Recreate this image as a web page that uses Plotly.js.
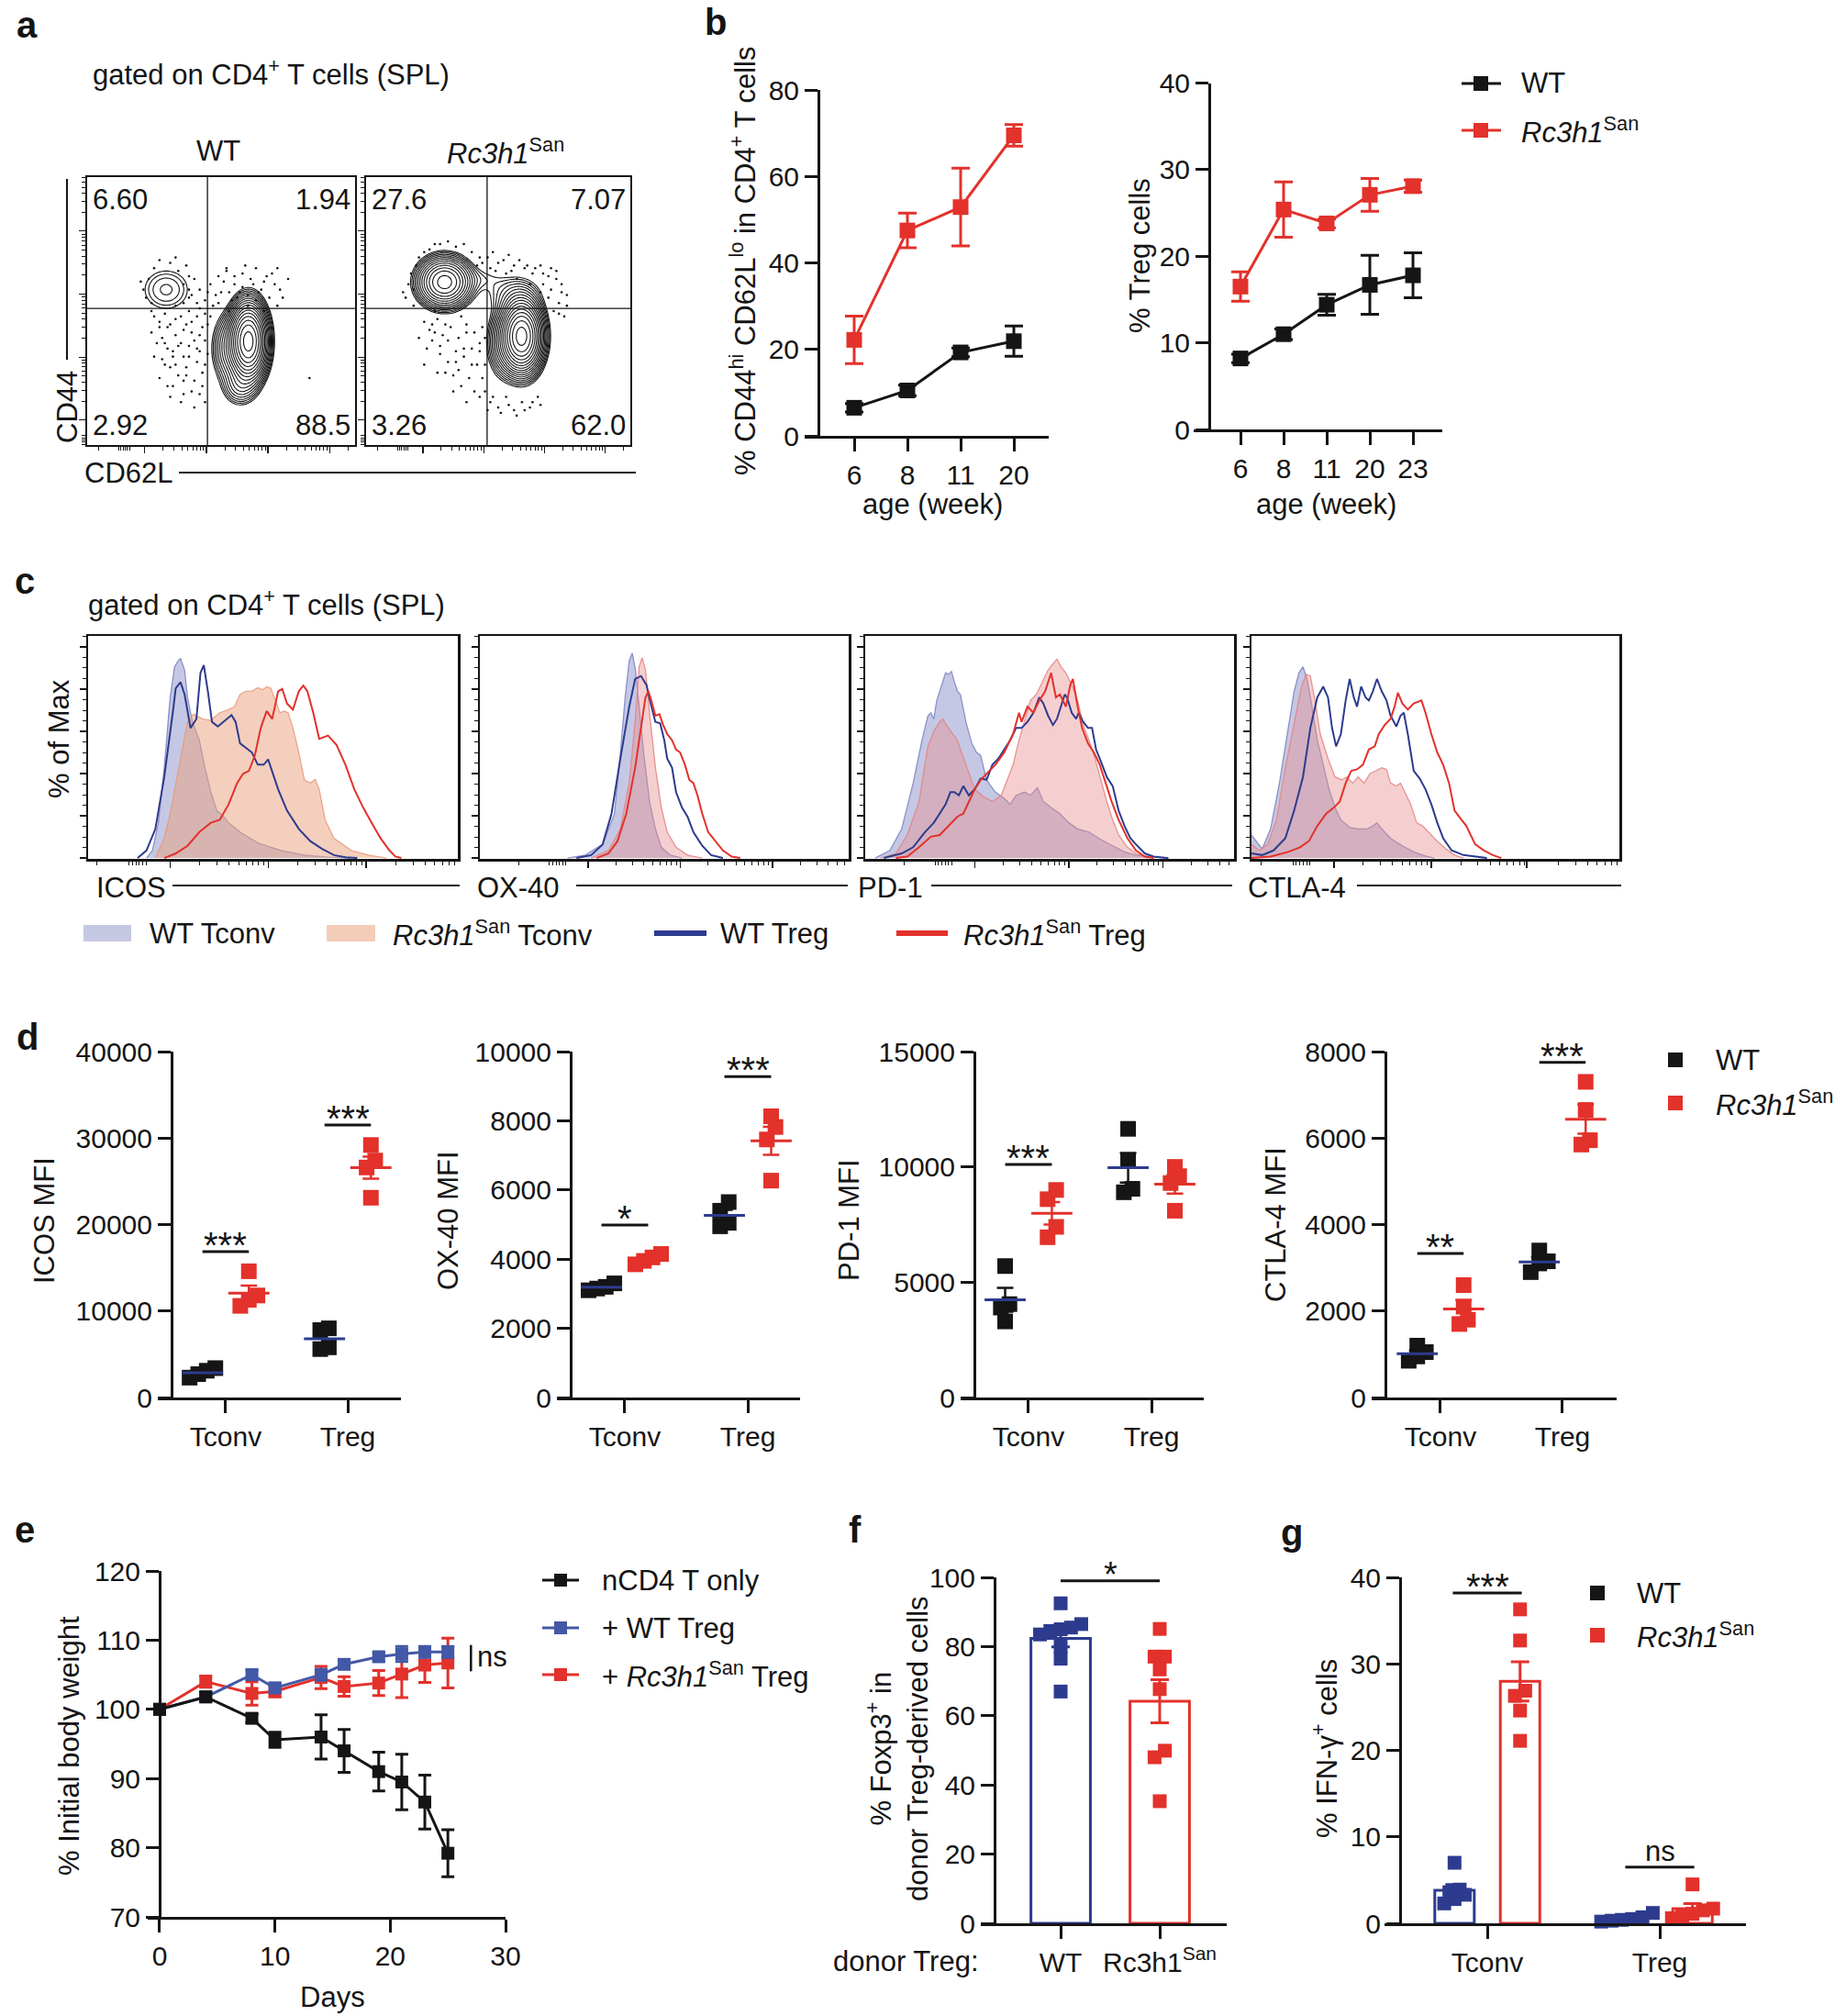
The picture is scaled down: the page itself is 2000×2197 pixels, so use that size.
<!DOCTYPE html>
<html>
<head>
<meta charset="utf-8">
<title>Rc3h1 San Treg phenotype</title>
<script src="https://cdn.plot.ly/plotly-3.0.1.min.js"></script>
<style>
html, body { margin: 0; padding: 0; background: #ffffff; }
#fig { width: 2000px; height: 2197px; }
</style>
</head>
<body>
<div id="fig"></div>
<script>
// ================= DATA =================
// ---- a: CD44 / CD62L flow plots (plot units 0-100) ----
const quadTextWT  = ['6.60', '1.94', '2.92', '88.5'];   // UL, UR, LL, LR
const quadTextSan = ['27.6', '7.07', '3.26', '62.0'];
const gateWT  = [44.9, 51.0];   // CD62L gate, CD44 gate
const gateSan = [45.8, 51.0];
// cell populations: centre, spread and relative height
const popWT_x   = [60.2, 53.0, 57.0, 29.5];
const popWT_y   = [38.7, 36.0, 22.0, 58.0];
const popWT_sx  = [3.3, 3.5, 3.5, 6.0];
const popWT_sy  = [6.8, 7.0, 4.0, 5.3];
const popWT_h   = [1.0, 0.07, 0.05, 0.03];
const popSan_x  = [58.9, 52.0, 29.7, 56.0, 44.0];
const popSan_y  = [40.6, 38.0, 60.8, 56.0, 62.0];
const popSan_sx = [3.7, 3.5, 5.0, 6.0, 5.0];
const popSan_sy = [6.4, 7.0, 4.6, 4.5, 3.0];
const popSan_h  = [1.0, 0.06, 0.35, 0.03, 0.012];
// single events outside the contour lines
const dotsWT_x = [49,52,55,58,61,63,66,69,72,75,50,54,57,64,68,71,47,53,60,66,27,30,33,36,39,42,29,32,35,38,41,44,31,34,37,40,43,30,36,42,28,45,33,24,23,25,34,36,31,22,38,40,83,
  25,27,29,31,33,35,37,39,41,43,44,42,40,38,36,34,32,30,28,26,24,29,33,37,41,43,39,35,31,27,25,44,40,36,32,44,42,38,46,45,
  36,39,42,44,46,48,51,53,55,58,60,62,65,67,70,73,71,45,49,56,63,52,59,41,38,21,20,38,37,27,33,24];
const dotsWT_y = [63,66,60,64,62,66,61,64,58,62,57,54,57,57,55,52,52,50,52,50,46,44,47,43,46,41,38,35,38,33,36,30,29,26,29,24,27,22,19,19,32,45,52,50,62,66,65,60,68,55,55,62,25,
  48,44,49,45,41,48,45,42,48,44,39,35,39,37,33,37,33,36,40,38,42,30,30,26,31,22,20,16,18,25,33,16,14,24,22,49,51,50,48,34,
  53,56,58,54,60,56,61,57,63,59,56,60,58,63,60,55,66,57,53,55,54,65,67,53,58,58,61,63,67,69,70,53];
const dotsSan_x = [47,50,53,56,60,63,66,69,72,74,70,67,76,73,71,75,57,62,20,23,26,28,31,34,37,22,27,33,38,40,43,30,25,36,41,44,47,50,53,56,59,62,45,65,18,17,20,24,28,34,40,42,15,
  22,24,27,29,32,35,38,41,43,40,37,34,31,28,25,30,35,39,42,44,33,38,43,45,45,26,36,
  46,49,52,55,58,61,64,67,70,72,74,76,73,69,66,44,48,54,
  48,51,54,57,60,63,46,66,16,19,22,26,31,37,43,14,18];
const dotsSan_y = [66,68,64,67,66,64,67,63,65,60,58,60,56,53,50,48,62,60,40,36,42,34,39,31,36,30,27,26,42,30,35,45,45,22,20,25,16,14,18,13,16,14,20,18,58,64,70,73,75,74,72,67,55,
  46,43,47,41,44,40,45,42,38,36,33,35,31,37,39,27,28,25,30,44,20,16,18,40,30,50,48,
  70,65,69,65,69,67,66,64,66,62,57,52,49,55,57,68,72,71,
  18,12,15,11,13,16,13,15,60,67,72,75,76,75,70,57,52];

// ---- b: time course ----
const ageL = ['6', '8', '11', '20'];
const memWT      = [6.5, 10.5, 19.3, 21.9];
const memWTErr   = [1.0, 1.2, 1.0, 3.5];
const memSan     = [22.2, 47.5, 52.9, 69.5];
const memSanErr  = [5.5, 4.0, 9.0, 2.5];
const ageR = ['6', '8', '11', '20', '23'];
const tregWT     = [8.2, 11.0, 14.4, 16.7, 17.8];
const tregWTErr  = [0.5, 0.6, 1.2, 3.4, 2.6];
const tregSan    = [16.5, 25.4, 23.8, 27.1, 28.1];
const tregSanErr = [1.7, 3.2, 0.5, 1.9, 0.7];

// ---- c: histograms (x: channel position 0-100, y: % of max) ----
const icosWTTconv_x = [15.8,17.4,19.0,20.6,22.2,23.4,24.4,25.0,26.1,26.9,28.2,30.1,31.6,33.2,34.8,36.4,38.0,41.1,45.9,52.2,58.5,64.9,71.2];
const icosWTTconv_y = [0,3.6,16.7,42.8,76.1,90.6,93.5,94.5,89.1,76.1,64.5,55.8,42.8,31.2,22.5,20.3,16.7,12.3,7.2,3.6,1.4,0.4,0];
const icosSanTconv_x = [18.2,20.6,22.2,24.5,26.9,28.5,30.9,33.2,35.6,38.0,39.6,41.1,42.7,44.3,45.9,47.2,48.3,49.4,50.6,51.9,53.0,54.1,55.4,57.0,58.5,60.1,61.4,62.5,64.1,66.5,71.2,75.9,80.7];
const icosSanTconv_y = [0,9.4,21.0,42.8,64.5,68.1,65.9,65.2,68.8,70.3,71.7,77.5,79.0,79.0,80.7,79.7,81.2,80.4,74.6,68.8,69.6,68.8,61.6,50.0,37.0,35.5,37.2,32.6,18.1,9.4,3.6,1.4,0];
const icosWTTreg_x = [13.4,15.8,18.2,20.6,22.9,23.7,25.0,26.1,27.7,29.3,30.4,31.3,32.4,33.5,35.1,37.2,38.8,39.9,41.1,42.7,44.3,45.9,47.5,48.7,49.8,51.4,53.8,57.0,60.1,63.3,66.5,69.6,72.8];
const icosWTTreg_y = [0,3.6,13.8,38.4,68.8,80.4,83.3,77.5,61.6,65.9,87.7,91.3,79.0,64.5,62.3,65.2,67.7,64.5,54.3,52.2,50.0,44.2,44.2,46.7,41.3,32.6,22.5,13.8,8.0,4.3,1.4,0.4,0];
const icosSanTreg_x = [20.6,23.7,26.9,30.1,33.2,35.6,38.0,40.3,41.9,43.5,45.1,46.7,48.3,49.8,51.4,52.5,53.8,55.4,57.0,58.2,59.3,60.9,62.5,64.9,67.2,69.6,72.0,74.4,76.7,79.1,81.5,83.1,84.7];
const icosSanTreg_y = [0,2.2,5.8,12.3,16.7,18.1,25.4,35.5,39.9,41.3,48.6,61.6,69.6,65.9,79.0,80.1,73.2,70.3,79.0,81.7,79.0,68.8,56.5,58.0,53.6,44.2,32.6,23.9,16.7,9.4,3.6,0.7,0];

const ox40WTTconv_x = [23.8,28.6,33.3,36.5,38.1,39.4,40.5,41.3,42.2,43.2,44.4,46.0,47.6,49.2,51.6,54.8];
const ox40WTTconv_y = [0,1.4,6.5,21.0,50.0,76.1,93.5,97.1,89.1,71.7,50.0,26.8,13.8,5.1,1.4,0];
const ox40SanTconv_x = [30.2,34.9,38.1,40.5,42.1,43.2,44.0,44.9,46.0,47.6,49.2,50.8,53.2,56.3,60.3];
const ox40SanTconv_y = [0,3.6,13.8,35.5,64.5,90.6,94.9,89.1,68.8,42.8,23.9,12.3,5.1,1.4,0];
const ox40WTTreg_x = [26.2,30.2,33.3,35.7,38.1,40.5,42.1,43.7,45.2,46.3,47.6,48.9,50.0,50.8,52.1,53.2,54.8,56.3,57.9,60.3,62.7,65.9];
const ox40WTTreg_y = [0,1.4,6.5,21.0,47.1,71.7,84.8,86.2,81.9,73.2,64.5,63.8,55.8,47.1,42.8,31.2,23.9,19.6,12.3,5.8,1.4,0];
const ox40SanTreg_x = [31.7,34.9,37.3,39.7,42.1,43.7,44.9,45.7,46.5,47.6,48.7,49.7,50.8,52.1,53.2,54.3,55.6,56.8,57.9,59.0,60.3,61.9,63.8,65.9,68.3,70.6];
const ox40SanTreg_y = [0,2.2,8.0,21.0,42.8,61.6,76.1,79.0,74.6,67.4,68.1,63.0,58.7,55.8,51.4,50.0,44.2,37.0,35.5,29.7,21.0,12.3,8.0,3.6,0.7,0];

const pd1WTTconv_x = [2.7,6.7,9.9,13.0,15.4,17.0,17.8,18.6,19.4,21.0,21.8,22.6,23.4,24.2,25.0,25.8,27.3,28.9,30.2,31.3,32.9,35.3,37.7,39.3,40.9,43.2,44.8,46.7,48.3,50.4,52.8,55.2,57.6,60.7,63.9,67.1,70.3,73.4,78.2,81.4];
const pd1WTTconv_y = [0,3.6,13.8,35.5,55.8,67.4,68.8,65.9,74.6,83.3,87.7,87.0,88.4,83.3,79.0,77.5,64.5,54.3,50.0,48.6,37.0,31.2,28.3,25.4,29.7,31.2,29.7,33.3,26.8,23.9,21.0,16.7,13.8,12.3,8.7,5.8,2.9,1.4,0.4,0];
const pd1SanTconv_x = [4.3,8.3,11.4,14.6,17.0,18.6,20.2,21.0,22.6,25.0,27.3,29.7,32.1,34.5,36.9,38.5,40.1,41.7,43.2,44.8,46.4,48.0,49.6,50.9,52.0,53.1,54.4,56.0,57.6,59.1,60.7,62.3,63.9,65.5,67.1,68.7,71.1,73.4,76.6];
const pd1SanTconv_y = [0,2.2,10.9,26.8,52.9,60.1,64.5,65.9,61.6,55.8,44.2,32.6,29.0,26.8,29.7,37.0,44.2,55.8,64.5,74.6,77.5,83.3,89.1,92.0,94.2,90.6,87.7,81.9,74.6,63.0,55.8,47.1,37.0,26.8,18.1,10.9,5.1,2.2,0];
const pd1WTTreg_x = [5.1,9.9,13.0,16.2,18.6,20.2,21.8,23.1,24.2,25.4,26.6,28.1,29.7,31.3,32.9,34.5,36.1,37.7,39.3,40.9,42.4,44.0,45.6,47.2,48.3,49.6,50.9,52.0,53.1,54.1,54.7,56.0,57.2,57.9,59.1,60.4,61.5,62.6,63.9,65.5,67.1,68.7,70.3,71.9,73.4,75.8,78.2,82.2];
const pd1WTTreg_y = [0,2.2,5.1,12.3,16.7,21.0,25.4,31.2,31.2,29.7,34.1,29.7,32.6,37.7,37.0,44.2,47.1,51.4,55.8,61.6,61.6,64.5,68.8,76.1,73.2,67.4,63.0,65.9,71.7,77.5,76.1,68.8,65.9,68.8,64.5,61.6,61.6,51.4,45.7,38.4,34.1,22.5,15.2,9.4,6.5,2.2,0.7,0];
const pd1SanTreg_x = [8.3,11.4,14.6,17.8,20.2,22.6,25.0,26.6,28.1,29.7,31.3,32.9,35.3,37.7,40.1,41.7,42.4,44.0,45.6,47.2,48.8,50.4,51.7,52.8,54.4,55.6,56.3,57.6,58.8,60.4,62.0,63.6,65.2,66.8,68.7,71.1,73.4,75.8,78.2];
const pd1SanTreg_y = [0,0.7,5.1,10.1,10.9,15.2,19.6,21.0,26.8,32.6,37.0,39.9,44.2,50.0,58.7,68.8,64.5,71.7,68.8,74.6,79.0,87.7,76.1,77.5,71.7,81.9,84.8,71.7,61.6,54.3,50.0,44.2,35.5,26.8,18.1,9.4,3.6,0.7,0];

const ctla4WTTconv_x = [0,2.9,5.2,7.6,10.0,11.6,12.9,14.0,15.1,16.3,17.9,19.5,21.1,22.7,24.3,26.7,29.0,31.4,33.0,34.1,35.4,37.8,41.0,44.1,47.3,49.7];
const ctla4WTTconv_y = [10.9,4.3,13.8,35.5,61.6,79.0,87.7,90.6,84.8,73.2,55.8,44.2,32.6,23.9,18.1,14.5,13.8,13.8,15.2,16.7,13.8,9.4,5.8,2.9,1.0,0];
const ctla4SanTconv_x = [0,2.1,4.4,6.8,9.2,11.6,13.5,14.8,16.0,17.1,18.7,20.8,22.7,24.6,25.9,27.5,29.0,30.6,32.2,33.8,35.4,36.7,37.8,39.4,40.5,41.7,43.3,44.9,46.5,48.1,50.5,52.9,55.2,57.6];
const ctla4SanTconv_y = [6.5,3.6,6.5,18.1,42.8,64.5,80.4,87.0,86.2,76.1,58.7,47.1,38.4,37.0,38.4,35.5,38.4,35.5,39.9,41.3,42.8,42.0,35.5,34.1,35.5,31.2,25.4,16.7,15.2,12.3,8.0,4.3,1.4,0];
const ctla4WTTreg_x = [0,2.9,6.0,9.2,11.6,14.0,16.0,17.9,19.5,20.8,21.9,23.0,24.3,25.6,26.7,27.8,28.7,29.8,31.0,31.9,33.0,34.1,35.4,36.7,37.8,39.4,40.5,41.4,42.5,44.1,45.7,47.3,48.9,50.5,52.1,54.4,57.6,60.8,64.0];
const ctla4WTTreg_y = [2.2,1.4,3.6,9.4,22.5,38.4,61.6,76.1,81.2,76.1,61.6,52.9,58.7,74.6,84.8,76.1,71.7,81.2,76.1,74.6,79.0,84.8,79.0,74.6,67.4,62.3,67.4,68.8,58.7,41.3,37.7,32.6,25.4,16.7,9.4,3.6,1.4,0.7,0];
const ctla4SanTreg_x = [0,5.2,10.0,13.2,15.6,17.9,20.3,22.4,24.0,25.6,27.1,28.7,30.3,31.9,33.5,34.6,36.2,37.8,38.9,39.8,41.0,42.5,44.1,45.2,46.2,47.3,48.9,50.5,52.1,53.7,55.2,56.8,58.4,60.8,63.2,65.6,67.9];
const ctla4SanTreg_y = [0,0.7,2.9,5.1,8.0,15.2,21.0,23.9,26.8,35.5,41.3,42.0,44.2,51.4,52.9,58.7,63.0,65.9,71.7,78.3,73.2,70.3,73.2,73.9,74.6,68.8,58.7,50.0,44.2,35.5,22.5,18.8,15.2,6.5,3.6,1.4,0];

// ---- d: MFI per mouse ----
const mfiGroups = ['Tconv', 'Treg'];
const icosWT_Tconv  = [3400, 3100, 2700, 2300];
const icosSan_Tconv = [14600, 11800, 11300, 10600];
const icosWT_Treg   = [8000, 7800, 5800, 5600];
const icosSan_Treg  = [29200, 27400, 26600, 23100];
const ox40WT_Tconv  = [3300, 3200, 3150, 3100];
const ox40San_Tconv = [4150, 4050, 3950, 3850];
const ox40WT_Treg   = [5650, 5400, 5050, 4950];
const ox40San_Treg  = [8130, 7820, 7460, 6270];
const pd1WT_Tconv   = [5700, 4050, 3900, 3300];
const pd1San_Tconv  = [9000, 8600, 7400, 6950];
const pd1WT_Treg    = [11650, 10250, 9050, 8900];
const pd1San_Treg   = [10000, 9600, 9300, 8100];
const ctla4WT_Tconv  = [1200, 1050, 950, 850];
const ctla4San_Tconv = [2600, 2100, 1800, 1700];
const ctla4WT_Treg   = [3400, 3150, 3100, 2900];
const ctla4San_Treg  = [7300, 6650, 5950, 5850];

// ---- e: body weight after transfer ----
const days = [0, 4, 8, 10, 14, 16, 19, 21, 23, 25];
const bwOnly     = [100, 101.8, 98.7, 95.6, 96.0, 94.0, 91.0, 89.5, 86.6, 79.2];
const bwOnlyErr  = [0, 0.6, 0.6, 1.1, 3.2, 3.1, 2.8, 4.0, 3.9, 3.4];
const bwWT       = [100, 101.8, 105.0, 103.1, 105.0, 106.5, 107.6, 108.0, 108.3, 108.3];
const bwWTErr    = [0, 0.5, 0.7, 0.7, 0.8, 0.6, 0.6, 1.1, 0.8, 0.8];
const bwSan      = [100, 104.0, 102.3, 102.6, 104.6, 103.3, 103.8, 105.1, 106.4, 106.7];
const bwSanErr   = [0, 0.8, 1.7, 0.8, 1.6, 1.4, 1.8, 3.4, 2.5, 3.6];

// ---- f: Foxp3 retention ----
const donorLabels = ['WT', 'Rc3h1<sup>San</sup>'];
const foxp3WT  = [92.5, 86.5, 85.5, 85, 84.5, 83.5, 80, 76.5, 67];
const foxp3San = [85.1, 77.1, 77.1, 73.4, 67.7, 49.9, 48.0, 35.3];

// ---- g: IFN-gamma producers ----
const ifngWT_Tconv  = [7.0, 3.9, 3.6, 3.3, 2.8, 2.3];
const ifngSan_Tconv = [36.3, 32.7, 26.9, 26.3, 24.6, 21.1];
const ifngWT_Treg   = [1.2, 0.7, 0.5, 0.4, 0.3, 0.2];
const ifngSan_Treg  = [4.5, 1.7, 1.5, 1.1, 0.8, 0.6];

// ================= STYLE & HELPERS =================
const FONT = '"Liberation Sans", Arial, Helvetica, sans-serif';
const BLACK = '#151515', RED = '#e3312b', BLUE = '#2d3b8e', MIDBLUE = '#4358a6';
const W = 2000, H = 2197;
const fx = p => p / W;
const fy = p => 1 - p / H;
const SAN = '<i>Rc3h1</i><sup>San</sup>';

const traces = [];
const layout = {
  width: W, height: H, margin: {l: 0, r: 0, t: 0, b: 0},
  paper_bgcolor: '#ffffff', plot_bgcolor: 'rgba(0,0,0,0)',
  showlegend: false, barmode: 'overlay', hovermode: false,
  font: {family: FONT, size: 30, color: BLACK},
  shapes: [], annotations: []
};
const ids = n => n === 1 ? {xk: 'xaxis', yk: 'yaxis', x: 'x', y: 'y'}
                         : {xk: 'xaxis' + n, yk: 'yaxis' + n, x: 'x' + n, y: 'y' + n};

function txt(x, y, text, o) {
  o = o || {};
  layout.annotations.push({
    xref: 'paper', yref: 'paper', x: fx(x), y: fy(y), text: text, showarrow: false,
    xanchor: o.xanchor || 'center', yanchor: o.yanchor || 'middle', textangle: o.angle || 0,
    font: {family: FONT, size: o.size || 30, color: o.color || BLACK,
           weight: o.bold ? 'bold' : 'normal'}
  });
}
function pline(x0, y0, x1, y1, w, c) {
  layout.shapes.push({type: 'line', xref: 'paper', yref: 'paper', x0: fx(x0), y0: fy(y0), x1: fx(x1), y1: fy(y1),
                      line: {color: c || BLACK, width: w || 2}});
}
function prect(x0, y0, x1, y1, fill) {
  layout.shapes.push({type: 'rect', xref: 'paper', yref: 'paper', x0: fx(x0), y0: fy(y0), x1: fx(x1), y1: fy(y1),
                      fillcolor: fill, line: {width: 0}});
}

// Prism-style axes: y axis line at yAxisX, x axis line starts a tick length to its left
const AX = {showline: true, linecolor: BLACK, linewidth: 3, ticks: 'outside', tickcolor: BLACK, tickwidth: 3,
            ticklen: 14, showgrid: false, zeroline: false, fixedrange: true, exponentformat: 'none',
            separatethousands: false, tickfont: {family: FONT, size: 30, color: BLACK}};
const geom = {};
function prismAxes(n, g) {
  const a = ids(n);
  geom[n] = g;
  layout[a.xk] = Object.assign({}, AX, {domain: [fx(g.xStart), fx(g.xEnd)], range: g.xrange, anchor: a.y,
                  tickmode: 'array', tickvals: g.xtickvals, ticktext: g.xticktext});
  layout[a.yk] = Object.assign({}, AX, {domain: [fy(g.yBottom), fy(g.yTop)], range: g.yrange, anchor: 'free',
                  position: fx(g.yAxisX), tickmode: 'array', tickvals: g.ytickvals,
                  ticktext: g.ytickvals.map(v => String(v))});
  return a;
}
const pxY = n => (geom[n].yBottom - geom[n].yTop) / (geom[n].yrange[1] - geom[n].yrange[0]);
const pxX = n => (geom[n].xEnd - geom[n].xStart) / (geom[n].xrange[1] - geom[n].xrange[0]);

const mean = a => a.reduce((s, v) => s + v, 0) / a.length;
const sem = a => { const m = mean(a); return Math.sqrt(a.reduce((s, v) => s + (v - m) * (v - m), 0) / (a.length - 1)) / Math.sqrt(a.length); };

// spread overlapping symbols sideways, symmetric around the group centre
function swarm(vals, centre, n, markerPx, stepFrac) {
  const tol = 0.8 * markerPx / pxY(n), step = (stepFrac || 0.6) * markerPx / pxX(n);
  const order = vals.map((v, i) => i).sort((p, q) => vals[p] - vals[q]);
  const xs = new Array(vals.length);
  let grp = [];
  const flush = () => grp.forEach((k, j) => { xs[k] = centre + (j - (grp.length - 1) / 2) * step; });
  order.forEach(k => {
    if (grp.length && vals[k] - vals[grp[0]] >= tol) { flush(); grp = []; }
    grp.push(k);
  });
  flush();
  return xs;
}

// log-decade tick marks for cytometry axes
function decadeTicks(dec) {
  const D = dec[1] - dec[0];
  const major = dec.slice();
  const minor = [];
  for (let d = dec[0]; d < 100; d += D) {
    for (let k = 2; k <= 9; k++) { const t = d + Math.log10(k) * D; if (t < 100) minor.push(+t.toFixed(2)); }
  }
  for (let k = 0; k < 6; k++) minor.push(+(dec[0] - D * 0.42 + k * D * 0.035).toFixed(2));
  minor.push(+(dec[0] - D * 0.75).toFixed(2));
  return {major: major, minor: minor.filter(t => t > 0)};
}

// ================= a: flow contour plots =================
function flowAxes(n, x0, x1, yTop, yBottom, xDec, yDec) {
  const a = ids(n);
  const xt = decadeTicks(xDec), yt = decadeTicks(yDec);
  const base = {range: [0, 100], showline: true, mirror: true, linecolor: BLACK, linewidth: 1.6,
                ticks: 'outside', ticklen: 7, tickwidth: 1.3, tickcolor: BLACK, tickmode: 'array',
                showticklabels: false, showgrid: false, zeroline: false, fixedrange: true};
  layout[a.xk] = Object.assign({}, base, {domain: [fx(x0), fx(x1)], anchor: a.y, tickvals: xt.major,
                  minor: {tickmode: 'array', tickvals: xt.minor, ticks: 'outside', ticklen: 4, tickwidth: 1, tickcolor: BLACK, showgrid: false}});
  layout[a.yk] = Object.assign({}, base, {domain: [fy(yBottom), fy(yTop)], anchor: a.x, tickvals: yt.major,
                  minor: {tickmode: 'array', tickvals: yt.minor, ticks: 'outside', ticklen: 4, tickwidth: 1, tickcolor: BLACK, showgrid: false}});
  return a;
}
function flowPlot(n, pos, pops, dotsX, dotsY, gate, quad) {
  const a = flowAxes(n, pos[0], pos[1], 193, 485, [21.5, 44.5, 67.5, 90.5], [9.3, 32.8, 56.4, 79.9]);
  const g = [], z = [];
  for (let i = 0; i <= 200; i++) g.push(i / 2);
  let zmax = 0;
  for (let j = 0; j <= 200; j++) {
    const row = [];
    for (let i = 0; i <= 200; i++) {
      let s = 1e-9;
      for (let k = 0; k < pops.x.length; k++) {
        const dx = (g[i] - pops.x[k]) / pops.sx[k], dy = (g[j] - pops.y[k]) / pops.sy[k];
        s += pops.h[k] * Math.exp(-0.5 * (dx * dx + dy * dy));
      }
      row.push(s); if (s > zmax) zmax = s;
    }
    z.push(row);
  }
  const zl = z.map(r => r.map(v => Math.log10(v / zmax)));
  traces.push({type: 'scatter', mode: 'markers', x: dotsX, y: dotsY, xaxis: a.x, yaxis: a.y,
               marker: {size: 2.6, color: BLACK}, hoverinfo: 'skip'});
  traces.push({type: 'contour', x: g, y: g, z: zl, xaxis: a.x, yaxis: a.y, showscale: false,
               contours: {start: -1.9, end: -0.05, size: 0.115, coloring: 'lines'},
               colorscale: [[0, BLACK], [1, BLACK]], line: {width: 1.1, smoothing: 1}, hoverinfo: 'skip'});
  layout.shapes.push({type: 'line', xref: a.x, yref: a.y, x0: gate[0], x1: gate[0], y0: 0, y1: 100, line: {color: BLACK, width: 1.3}});
  layout.shapes.push({type: 'line', xref: a.x, yref: a.y, x0: 0, x1: 100, y0: gate[1], y1: gate[1], line: {color: BLACK, width: 1.3}});
  const q = (x, y, t, anchor) => layout.annotations.push({xref: a.x, yref: a.y, x: x, y: y, text: t, showarrow: false,
                                   xanchor: anchor, yanchor: 'middle', font: {family: FONT, size: 31, color: BLACK}});
  q(1.5, 91.5, quad[0], 'left');  q(98.8, 91.5, quad[1], 'right');
  q(1.5, 7.5, quad[2], 'left');   q(98.8, 7.5, quad[3], 'right');
}
flowPlot(1, [95, 387], {x: popWT_x, y: popWT_y, sx: popWT_sx, sy: popWT_sy, h: popWT_h}, dotsWT_x, dotsWT_y, gateWT, quadTextWT);
flowPlot(2, [399, 687], {x: popSan_x, y: popSan_y, sx: popSan_sx, sy: popSan_sy, h: popSan_h}, dotsSan_x, dotsSan_y, gateSan, quadTextSan);

txt(16, 27, 'a', {size: 40, bold: true, xanchor: 'left'});
txt(99, 79, 'gated on CD4<sup>+</sup> T cells (SPL)', {xanchor: 'left', size: 31});
txt(238, 165, 'WT', {size: 31});
txt(551, 165, SAN, {size: 31});
pline(73, 195, 73, 392, 2);
txt(73, 444, 'CD44', {angle: -90, size: 31});
txt(140, 515, 'CD62L', {size: 31});
pline(195, 515, 693, 515, 2);

// ================= b: time course =================
function lineSeries(a, xs, ys, errs, col, size, lw, capW) {
  traces.push({type: 'scatter', mode: 'lines+markers', x: xs, y: ys, xaxis: a.x, yaxis: a.y, cliponaxis: false,
               line: {color: col, width: lw}, marker: {symbol: 'square', size: size, color: col},
               error_y: {type: 'data', array: errs, visible: true, color: col, thickness: lw, width: capW}});
}
const bL = prismAxes(3, {xStart: 877, xEnd: 1143, yAxisX: 892, yTop: 98, yBottom: 475,
  xrange: [-0.931, 3.655], yrange: [0, 80], xtickvals: [0, 1, 2, 3], xticktext: ageL, ytickvals: [0, 20, 40, 60, 80]});
lineSeries(bL, [0, 1, 2, 3], memSan, memSanErr, RED, 17, 3, 10);
lineSeries(bL, [0, 1, 2, 3], memWT, memWTErr, BLACK, 17, 3, 10);
const bR = prismAxes(4, {xStart: 1301, xEnd: 1572, yAxisX: 1318, yTop: 90.6, yBottom: 468,
  xrange: [-1.085, 4.68], yrange: [0, 40], xtickvals: [0, 1, 2, 3, 4], xticktext: ageR, ytickvals: [0, 10, 20, 30, 40]});
lineSeries(bR, [0, 1, 2, 3, 4], tregSan, tregSanErr, RED, 17, 3, 10);
lineSeries(bR, [0, 1, 2, 3, 4], tregWT, tregWTErr, BLACK, 17, 3, 10);

txt(766, 24, 'b', {size: 40, bold: true, xanchor: 'left'});
txt(810, 285, '% CD44<sup>hi</sup> CD62L<sup>lo</sup> in CD4<sup>+</sup> T cells', {angle: -90, size: 31});
txt(1017, 549, 'age (week)', {size: 31});
txt(1242, 279, '% Treg cells', {angle: -90, size: 31});
txt(1445, 549, 'age (week)', {size: 31});
// legend
pline(1593, 91, 1636, 91, 3, BLACK); prect(1606, 83, 1622, 99, BLACK);
txt(1656, 91, 'WT', {xanchor: 'left', size: 31});
pline(1593, 142, 1636, 142, 3, RED); prect(1606, 134, 1622, 150, RED);
txt(1656, 142, SAN, {xanchor: 'left', size: 31});

// ================= c: histograms =================
const LAV_FILL = 'rgba(150,155,205,0.55)', LAV_LINE = 'rgba(125,130,190,0.85)';
const PEACH_FILL = 'rgba(236,160,124,0.5)', PEACH_LINE = 'rgba(230,150,120,0.8)';
const PINK_FILL = 'rgba(232,140,140,0.42)', PINK_LINE = 'rgba(228,130,130,0.85)';
function histAxes(n, x0, x1, dec) {
  const a = ids(n);
  const t = decadeTicks(dec);
  layout[a.xk] = {domain: [fx(x0), fx(x1)], range: [0, 100], anchor: a.y, showline: true, mirror: true,
    linecolor: BLACK, linewidth: 2.5, ticks: 'outside', ticklen: 7, tickwidth: 1.5, tickcolor: BLACK,
    tickmode: 'array', tickvals: t.major, showticklabels: false, showgrid: false, zeroline: false, fixedrange: true,
    minor: {tickmode: 'array', tickvals: t.minor, ticks: 'outside', ticklen: 4, tickwidth: 1, tickcolor: BLACK, showgrid: false}};
  layout[a.yk] = {domain: [fy(936), fy(693)], range: [-0.4, 105.2], anchor: a.x, showline: true, mirror: true,
    linecolor: BLACK, linewidth: 2.5, ticks: 'outside', ticklen: 7, tickwidth: 1.5, tickcolor: BLACK,
    tickmode: 'array', tickvals: [0, 20, 40, 60, 80, 100], showticklabels: false, showgrid: false, zeroline: false, fixedrange: true,
    minor: {tickmode: 'linear', tick0: 0, dtick: 5, ticks: 'outside', ticklen: 4, tickwidth: 1, tickcolor: BLACK, showgrid: false}};
  return a;
}
function histPanel(n, x0, x1, dec, s, sanFill, sanLine) {
  const a = histAxes(n, x0, x1, dec);
  traces.push({type: 'scatter', mode: 'lines', x: s[0], y: s[1], xaxis: a.x, yaxis: a.y, fill: 'tozeroy',
               fillcolor: LAV_FILL, line: {color: LAV_LINE, width: 1.3}});
  traces.push({type: 'scatter', mode: 'lines', x: s[2], y: s[3], xaxis: a.x, yaxis: a.y, fill: 'tozeroy',
               fillcolor: sanFill, line: {color: sanLine, width: 1.3}});
  traces.push({type: 'scatter', mode: 'lines', x: s[4], y: s[5], xaxis: a.x, yaxis: a.y, line: {color: BLUE, width: 2}});
  traces.push({type: 'scatter', mode: 'lines', x: s[6], y: s[7], xaxis: a.x, yaxis: a.y, line: {color: RED, width: 2}});
}
histPanel(5, 96, 499, [22.2, 48.7, 75.2],
  [icosWTTconv_x, icosWTTconv_y, icosSanTconv_x, icosSanTconv_y, icosWTTreg_x, icosWTTreg_y, icosSanTreg_x, icosSanTreg_y], PEACH_FILL, PEACH_LINE);
histPanel(6, 523, 925, [29.4, 54.4, 79.4],
  [ox40WTTconv_x, ox40WTTconv_y, ox40SanTconv_x, ox40SanTconv_y, ox40WTTreg_x, ox40WTTreg_y, ox40SanTreg_x, ox40SanTreg_y], PINK_FILL, PINK_LINE);
histPanel(7, 943, 1345, [29.7, 55.2, 80.7],
  [pd1WTTconv_x, pd1WTTconv_y, pd1SanTconv_x, pd1SanTconv_y, pd1WTTreg_x, pd1WTTreg_y, pd1SanTreg_x, pd1SanTreg_y], PINK_FILL, PINK_LINE);
histPanel(8, 1364, 1765, [22.4, 48.9, 74.8],
  [ctla4WTTconv_x, ctla4WTTconv_y, ctla4SanTconv_x, ctla4SanTconv_y, ctla4WTTreg_x, ctla4WTTreg_y, ctla4SanTreg_x, ctla4SanTreg_y], PINK_FILL, PINK_LINE);

txt(14, 633, 'c', {size: 40, bold: true, xanchor: 'left'});
txt(94, 657, 'gated on CD4<sup>+</sup> T cells (SPL)', {xanchor: 'left', size: 31});
txt(64, 805, '% of Max', {angle: -90, size: 31});
txt(103, 967, 'ICOS', {xanchor: 'left', size: 31});  pline(188, 965, 501, 965, 2);
txt(518, 967, 'OX-40', {xanchor: 'left', size: 31}); pline(628, 965, 924, 965, 2);
txt(933, 967, 'PD-1', {xanchor: 'left', size: 31});  pline(1015, 965, 1343, 965, 2);
txt(1358, 967, 'CTLA-4', {xanchor: 'left', size: 31}); pline(1479, 965, 1767, 965, 2);
// legend
prect(91, 1008, 143, 1026, 'rgb(197,200,227)');
txt(161, 1017, 'WT Tconv', {xanchor: 'left', size: 31});
prect(356, 1008, 409, 1026, 'rgb(244,205,185)');
txt(426, 1017, SAN + ' Tconv', {xanchor: 'left', size: 31});
pline(713, 1017, 770, 1017, 6, BLUE);
txt(783, 1017, 'WT Treg', {xanchor: 'left', size: 31});
pline(977, 1017, 1033, 1017, 6, RED);
txt(1048, 1017, SAN + ' Treg', {xanchor: 'left', size: 31});

// ================= d: MFI scatter =================
const OFF = 0.19;
function mfiGroup(a, n, vals, centre, isWT) {
  const col = isWT ? BLACK : RED, mcol = isWT ? BLUE : RED;
  traces.push({type: 'scatter', mode: 'markers', x: swarm(vals, centre, n, 17, 0.55), y: vals, xaxis: a.x, yaxis: a.y,
               cliponaxis: false, marker: {symbol: 'square', size: 17, color: col}});
  traces.push({type: 'scatter', mode: 'markers', x: [centre], y: [mean(vals)], xaxis: a.x, yaxis: a.y, cliponaxis: false,
               marker: {symbol: 'line-ew', size: 32, color: mcol, line: {width: 3, color: mcol}},
               error_y: {type: 'data', array: [sem(vals)], visible: true, color: col, thickness: 2.5, width: 9}});
}
function sigBar(a, x0, x1, yv, label, size, shift) {
  layout.shapes.push({type: 'line', xref: a.x, yref: a.y, x0: x0, x1: x1, y0: yv, y1: yv, line: {color: BLACK, width: 3}});
  layout.annotations.push({xref: a.x, yref: a.y, x: (x0 + x1) / 2, y: yv, text: label, showarrow: false,
                           xanchor: 'center', yanchor: 'bottom', yshift: shift,
                           font: {family: FONT, size: size, color: BLACK}});
}
const mfiPanels = [
  {n: 9,  g: {xStart: 172, xEnd: 437, yAxisX: 187, xrange: [0.444, 2.436], yrange: [0, 40000], ytickvals: [0, 10000, 20000, 30000, 40000]},
   v: [icosWT_Tconv, icosSan_Tconv, icosWT_Treg, icosSan_Treg], sig: [[1, 16870, '***'], [2, 31510, '***']]},
  {n: 10, g: {xStart: 607, xEnd: 872, yAxisX: 622, xrange: [0.448, 2.425], yrange: [0, 10000], ytickvals: [0, 2000, 4000, 6000, 8000, 10000]},
   v: [ox40WT_Tconv, ox40San_Tconv, ox40WT_Treg, ox40San_Treg], sig: [[1, 4990, '*'], [2, 9280, '***']]},
  {n: 11, g: {xStart: 1047, xEnd: 1312, yAxisX: 1062, xrange: [0.448, 2.425], yrange: [0, 15000], ytickvals: [0, 5000, 10000, 15000]},
   v: [pd1WT_Tconv, pd1San_Tconv, pd1WT_Treg, pd1San_Treg], sig: [[1, 10110, '***']]},
  {n: 12, g: {xStart: 1495, xEnd: 1762, yAxisX: 1510, xrange: [0.436, 2.444], yrange: [0, 8000], ytickvals: [0, 2000, 4000, 6000, 8000]},
   v: [ctla4WT_Tconv, ctla4San_Tconv, ctla4WT_Treg, ctla4San_Treg], sig: [[1, 3330, '**'], [2, 7750, '***']]}
];
mfiPanels.forEach(p => {
  const a = prismAxes(p.n, Object.assign({yTop: 1146, yBottom: 1523, xtickvals: [1, 2], xticktext: mfiGroups}, p.g));
  mfiGroup(a, p.n, p.v[0], 1 - OFF, true);
  mfiGroup(a, p.n, p.v[1], 1 + OFF, false);
  mfiGroup(a, p.n, p.v[2], 2 - OFF, true);
  mfiGroup(a, p.n, p.v[3], 2 + OFF, false);
  p.sig.forEach(s => sigBar(a, s[0] - OFF, s[0] + OFF, s[1], s[2], 40, -17));
});
txt(16, 1130, 'd', {size: 40, bold: true, xanchor: 'left'});
txt(48, 1330, 'ICOS MFI', {angle: -90, size: 31});
txt(488, 1330, 'OX-40 MFI', {angle: -90, size: 31});
txt(925, 1330, 'PD-1 MFI', {angle: -90, size: 31});
txt(1390, 1335, 'CTLA-4 MFI', {angle: -90, size: 31});
prect(1818, 1147, 1834, 1163, BLACK); txt(1868, 1155, 'WT', {xanchor: 'left', size: 31});
prect(1818, 1194, 1834, 1210, RED);   txt(1868, 1202, SAN, {xanchor: 'left', size: 31});

// ================= e: body weight =================
const eA = prismAxes(13, {xStart: 161, xEnd: 551, yAxisX: 174, yTop: 1712, yBottom: 2089,
  xrange: [-1.034, 30], yrange: [70, 120], xtickvals: [0, 10, 20, 30], xticktext: ['0', '10', '20', '30'],
  ytickvals: [70, 80, 90, 100, 110, 120]});
lineSeries(eA, days, bwSan, bwSanErr, RED, 14, 3, 7);
lineSeries(eA, days, bwWT, bwWTErr, MIDBLUE, 14, 3, 7);
lineSeries(eA, days, bwOnly, bwOnlyErr, BLACK, 14, 3, 7);
layout.shapes.push({type: 'line', xref: eA.x, yref: eA.y, x0: 27.0, x1: 27.0, y0: 105.5, y1: 109.3, line: {color: BLACK, width: 2.5}});
layout.annotations.push({xref: eA.x, yref: eA.y, x: 27.4, y: 107.6, text: 'ns', showarrow: false, xanchor: 'left', yanchor: 'middle',
                         font: {family: FONT, size: 31, color: BLACK}});
txt(14, 1667, 'e', {size: 40, bold: true, xanchor: 'left'});
txt(75, 1903, '% Initial body weight', {angle: -90, size: 31});
txt(362, 2176, 'Days', {size: 31});
pline(591, 1722, 631, 1722, 3, BLACK);   prect(604, 1715, 618, 1729, BLACK);
txt(654, 1722, 'nCD4 T only', {xanchor: 'left', size: 31});
pline(591, 1774, 631, 1774, 3, MIDBLUE); prect(604, 1767, 618, 1781, MIDBLUE);
txt(654, 1774, '+ WT Treg', {xanchor: 'left', size: 31});
pline(591, 1825, 631, 1825, 3, RED);     prect(604, 1818, 618, 1832, RED);
txt(654, 1825, '+ ' + SAN + ' Treg', {xanchor: 'left', size: 31});

// ================= f & g: bars with individual mice =================
function barGroup(a, n, vals, centre, width, col, markerPx) {
  traces.push({type: 'bar', x: [centre], y: [mean(vals)], width: [width], xaxis: a.x, yaxis: a.y,
               marker: {color: 'rgba(0,0,0,0)', line: {color: col, width: 3}},
               error_y: {type: 'data', array: [sem(vals)], visible: true, color: col, thickness: 3, width: 10}});
  traces.push({type: 'scatter', mode: 'markers', x: swarm(vals, centre, n, markerPx, 0.75), y: vals, xaxis: a.x, yaxis: a.y,
               cliponaxis: false, marker: {symbol: 'square', size: markerPx, color: col}});
}
const fA = prismAxes(14, {xStart: 1069, xEnd: 1337, yAxisX: 1084, yTop: 1719, yBottom: 2096,
  xrange: [0.194, 2.676], yrange: [0, 100], xtickvals: [1, 2], xticktext: donorLabels, ytickvals: [0, 20, 40, 60, 80, 100]});
barGroup(fA, 14, foxp3WT, 1, 0.6, BLUE, 15);
barGroup(fA, 14, foxp3San, 2, 0.6, RED, 15);
sigBar(fA, 1, 2, 99.0, '*', 38, -16);
txt(923, 1667, 'f', {size: 40, bold: true, xanchor: 'left'});
txt(978, 1906, '% Foxp3<sup>+</sup> in<br>donor Treg-derived cells', {angle: -90, size: 31});
txt(1069, 2137, 'donor Treg:', {xanchor: 'right', size: 31});

const gA = prismAxes(15, {xStart: 1509, xEnd: 1903, yAxisX: 1526, yTop: 1719, yBottom: 2096,
  xrange: [0.404, 2.5], yrange: [0, 40], xtickvals: [1, 2], xticktext: mfiGroups, ytickvals: [0, 10, 20, 30, 40]});
barGroup(gA, 15, ifngWT_Tconv, 1 - OFF, 0.229, BLUE, 15);
barGroup(gA, 15, ifngSan_Tconv, 1 + OFF, 0.229, RED, 15);
barGroup(gA, 15, ifngWT_Treg, 2 - OFF, 0.229, BLUE, 15);
barGroup(gA, 15, ifngSan_Treg, 2 + OFF, 0.229, RED, 15);
sigBar(gA, 1 - 0.2, 1 + 0.2, 38.2, '***', 40, -17);
sigBar(gA, 2 - 0.2, 2 + 0.2, 6.5, 'ns', 31, -2);
txt(1394, 1670, 'g', {size: 40, bold: true, xanchor: 'left'});
txt(1444, 1906, '% IFN-γ<sup>+</sup> cells', {angle: -90, size: 31});
prect(1733, 1728, 1749, 1744, BLACK); txt(1782, 1736, 'WT', {xanchor: 'left', size: 31});
prect(1733, 1774, 1749, 1790, RED);   txt(1782, 1782, SAN, {xanchor: 'left', size: 31});

Plotly.newPlot('fig', traces, layout, {staticPlot: true, displayModeBar: false});
</script>
</body>
</html>
